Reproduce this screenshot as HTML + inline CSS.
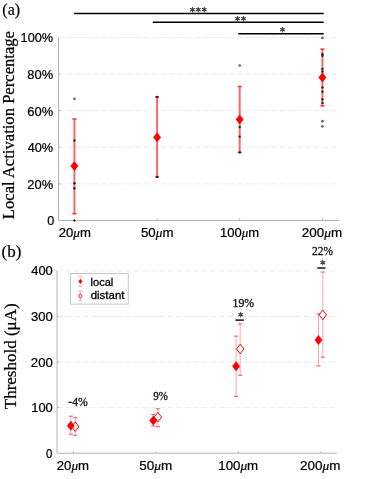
<!DOCTYPE html><html><head><meta charset="utf-8"><style>html,body{margin:0;padding:0;background:#fff;}svg{display:block;}</style></head><body>
<svg width="375" height="479" viewBox="0 0 375 479" style="filter:blur(0.3px)">
<rect width="375" height="479" fill="#fff"/>
<line x1="58.5" y1="183.9" x2="338.9" y2="183.9" stroke="#ededed" stroke-width="1" stroke-dasharray="6 2.5"/>
<line x1="58.5" y1="147.3" x2="338.9" y2="147.3" stroke="#ededed" stroke-width="1" stroke-dasharray="6 2.5"/>
<line x1="58.5" y1="110.7" x2="338.9" y2="110.7" stroke="#ededed" stroke-width="1" stroke-dasharray="6 2.5"/>
<line x1="58.5" y1="74.1" x2="338.9" y2="74.1" stroke="#ededed" stroke-width="1" stroke-dasharray="6 2.5"/>
<line x1="58.5" y1="37.5" x2="338.9" y2="37.5" stroke="#ededed" stroke-width="1" stroke-dasharray="6 2.5"/>
<line x1="58.5" y1="37.5" x2="58.5" y2="220.5" stroke="#b4b4b4" stroke-width="1"/>
<line x1="58.5" y1="220.5" x2="338.9" y2="220.5" stroke="#b4b4b4" stroke-width="1"/>
<line x1="74.4" y1="220.5" x2="74.4" y2="218.5" stroke="#b4b4b4" stroke-width="1"/>
<line x1="157.1" y1="220.5" x2="157.1" y2="218.5" stroke="#b4b4b4" stroke-width="1"/>
<line x1="239.7" y1="220.5" x2="239.7" y2="218.5" stroke="#b4b4b4" stroke-width="1"/>
<line x1="322.4" y1="220.5" x2="322.4" y2="218.5" stroke="#b4b4b4" stroke-width="1"/>
<line x1="58.5" y1="183.9" x2="60.5" y2="183.9" stroke="#b4b4b4" stroke-width="1"/>
<line x1="58.5" y1="147.3" x2="60.5" y2="147.3" stroke="#b4b4b4" stroke-width="1"/>
<line x1="58.5" y1="110.7" x2="60.5" y2="110.7" stroke="#b4b4b4" stroke-width="1"/>
<line x1="58.5" y1="74.1" x2="60.5" y2="74.1" stroke="#b4b4b4" stroke-width="1"/>
<text transform="translate(14,125.1) rotate(-90)" font-family="Liberation Serif, serif" font-size="16.62" text-anchor="middle" fill="#000" stroke="#000" stroke-width="0.25">Local Activation Percentage</text>
<line x1="74.4" y1="119" x2="74.4" y2="213.75" stroke="#ff6262" stroke-width="1.9"/>
<line x1="72.4" y1="119" x2="76.4" y2="119" stroke="#ff3030" stroke-width="1.5"/>
<line x1="72.4" y1="213.75" x2="76.4" y2="213.75" stroke="#ff3030" stroke-width="1.5"/>
<circle cx="74.4" cy="98.8" r="1.35" fill="#6a6a6a"/>
<circle cx="74.4" cy="140.5" r="1.2" fill="#262626"/>
<circle cx="74.4" cy="183.3" r="1.2" fill="#262626"/>
<circle cx="74.4" cy="188.3" r="1.2" fill="#262626"/>
<circle cx="74.4" cy="220.6" r="1.2" fill="#262626"/>
<path d="M74.4 161.2L78.35 166.1L74.4 171L70.45 166.1Z" fill="#ff0000"/>
<line x1="157.1" y1="96.9" x2="157.1" y2="176.9" stroke="#ff6262" stroke-width="1.9"/>
<line x1="155.1" y1="96.9" x2="159.1" y2="96.9" stroke="#ff3030" stroke-width="1.5"/>
<line x1="155.1" y1="176.9" x2="159.1" y2="176.9" stroke="#ff3030" stroke-width="1.5"/>
<circle cx="157.1" cy="96.9" r="1.2" fill="#262626"/>
<circle cx="157.1" cy="176.9" r="1.2" fill="#262626"/>
<path d="M157.1 132.4L161.05 137.3L157.1 142.2L153.15 137.3Z" fill="#ff0000"/>
<line x1="239.7" y1="86.5" x2="239.7" y2="152.4" stroke="#ff6262" stroke-width="1.9"/>
<line x1="237.7" y1="86.5" x2="241.7" y2="86.5" stroke="#ff3030" stroke-width="1.5"/>
<line x1="237.7" y1="152.4" x2="241.7" y2="152.4" stroke="#ff3030" stroke-width="1.5"/>
<circle cx="239.7" cy="65.5" r="1.35" fill="#6a6a6a"/>
<circle cx="239.7" cy="127.1" r="1.2" fill="#262626"/>
<circle cx="239.7" cy="136.6" r="1.2" fill="#262626"/>
<circle cx="239.7" cy="152.4" r="1.2" fill="#262626"/>
<path d="M239.7 114.5L243.65 119.4L239.7 124.3L235.75 119.4Z" fill="#ff0000"/>
<line x1="322.4" y1="49.1" x2="322.4" y2="105.9" stroke="#ff6262" stroke-width="1.9"/>
<line x1="320.4" y1="49.1" x2="324.4" y2="49.1" stroke="#ff3030" stroke-width="1.5"/>
<line x1="320.4" y1="105.9" x2="324.4" y2="105.9" stroke="#ff3030" stroke-width="1.5"/>
<circle cx="322.4" cy="37.9" r="1.35" fill="#6a6a6a"/>
<circle cx="322.4" cy="54.3" r="1.2" fill="#262626"/>
<circle cx="322.4" cy="55.7" r="1.2" fill="#262626"/>
<circle cx="322.4" cy="68.9" r="1.2" fill="#262626"/>
<circle cx="322.4" cy="71.5" r="1.2" fill="#262626"/>
<circle cx="322.4" cy="87.4" r="1.2" fill="#262626"/>
<circle cx="322.4" cy="91.7" r="1.2" fill="#262626"/>
<circle cx="322.4" cy="99.3" r="1.2" fill="#262626"/>
<circle cx="322.4" cy="102.9" r="1.2" fill="#262626"/>
<circle cx="322.4" cy="121.2" r="1.35" fill="#6a6a6a"/>
<circle cx="322.4" cy="126.3" r="1.35" fill="#6a6a6a"/>
<path d="M322.4 72.6L326.35 77.5L322.4 82.4L318.45 77.5Z" fill="#ff0000"/>
<line x1="74.1" y1="13.5" x2="323.7" y2="13.5" stroke="#000" stroke-width="1.4"/>
<line x1="152.8" y1="22.2" x2="323.7" y2="22.2" stroke="#000" stroke-width="1.4"/>
<line x1="238.2" y1="33.8" x2="323.7" y2="33.8" stroke="#000" stroke-width="1.4"/>
<path d="M192.5 12L192.5 7.4M190.51 10.85L194.49 8.55M190.51 8.55L194.49 10.85" stroke="#444" stroke-width="1.1" stroke-linecap="round" fill="none"/>
<circle cx="192.5" cy="9.7" r="1.35" fill="#444"/>
<path d="M198.3 12L198.3 7.4M196.31 10.85L200.29 8.55M196.31 8.55L200.29 10.85" stroke="#444" stroke-width="1.1" stroke-linecap="round" fill="none"/>
<circle cx="198.3" cy="9.7" r="1.35" fill="#444"/>
<path d="M204.2 12L204.2 7.4M202.21 10.85L206.19 8.55M202.21 8.55L206.19 10.85" stroke="#444" stroke-width="1.1" stroke-linecap="round" fill="none"/>
<circle cx="204.2" cy="9.7" r="1.35" fill="#444"/>
<path d="M237.5 20.9L237.5 16.3M235.51 19.75L239.49 17.45M235.51 17.45L239.49 19.75" stroke="#444" stroke-width="1.1" stroke-linecap="round" fill="none"/>
<circle cx="237.5" cy="18.6" r="1.35" fill="#444"/>
<path d="M243.5 20.9L243.5 16.3M241.51 19.75L245.49 17.45M241.51 17.45L245.49 19.75" stroke="#444" stroke-width="1.1" stroke-linecap="round" fill="none"/>
<circle cx="243.5" cy="18.6" r="1.35" fill="#444"/>
<path d="M282.5 32L282.5 27.4M280.51 30.85L284.49 28.55M280.51 28.55L284.49 30.85" stroke="#444" stroke-width="1.1" stroke-linecap="round" fill="none"/>
<circle cx="282.5" cy="29.7" r="1.35" fill="#444"/>
<line x1="57" y1="407.62" x2="336.8" y2="407.62" stroke="#ededed" stroke-width="1" stroke-dasharray="6 2.5"/>
<line x1="57" y1="362.05" x2="336.8" y2="362.05" stroke="#ededed" stroke-width="1" stroke-dasharray="6 2.5"/>
<line x1="57" y1="316.48" x2="336.8" y2="316.48" stroke="#ededed" stroke-width="1" stroke-dasharray="6 2.5"/>
<line x1="57" y1="270.9" x2="336.8" y2="270.9" stroke="#ededed" stroke-width="1" stroke-dasharray="6 2.5"/>
<line x1="57" y1="270.9" x2="57" y2="453.2" stroke="#b4b4b4" stroke-width="1"/>
<line x1="57" y1="453.2" x2="336.8" y2="453.2" stroke="#b4b4b4" stroke-width="1"/>
<line x1="73.3" y1="453.2" x2="73.3" y2="451.2" stroke="#b4b4b4" stroke-width="1"/>
<line x1="155.8" y1="453.2" x2="155.8" y2="451.2" stroke="#b4b4b4" stroke-width="1"/>
<line x1="238.3" y1="453.2" x2="238.3" y2="451.2" stroke="#b4b4b4" stroke-width="1"/>
<line x1="320.8" y1="453.2" x2="320.8" y2="451.2" stroke="#b4b4b4" stroke-width="1"/>
<line x1="57" y1="407.62" x2="59" y2="407.62" stroke="#b4b4b4" stroke-width="1"/>
<line x1="57" y1="362.05" x2="59" y2="362.05" stroke="#b4b4b4" stroke-width="1"/>
<line x1="57" y1="316.48" x2="59" y2="316.48" stroke="#b4b4b4" stroke-width="1"/>
<text transform="translate(16,356.3) rotate(-90)" font-family="Liberation Serif, serif" font-size="17" text-anchor="middle" fill="#000" stroke="#000" stroke-width="0.25">Threshold (μA)</text>
<line x1="70.8" y1="416.2" x2="70.8" y2="434.2" stroke="#ffa8a8" stroke-width="1"/>
<line x1="68.8" y1="416.2" x2="72.8" y2="416.2" stroke="#ff6070" stroke-width="1.2"/>
<line x1="68.8" y1="434.2" x2="72.8" y2="434.2" stroke="#ff6070" stroke-width="1.2"/>
<line x1="75.3" y1="417.5" x2="75.3" y2="435.3" stroke="#ffa8a8" stroke-width="1"/>
<line x1="73.3" y1="417.5" x2="77.3" y2="417.5" stroke="#ff6070" stroke-width="1.2"/>
<line x1="73.3" y1="435.3" x2="77.3" y2="435.3" stroke="#ff6070" stroke-width="1.2"/>
<path d="M75.3 421.9L78.9 426.7L75.3 431.5L71.7 426.7Z" fill="#fff" stroke="#ff0000" stroke-width="1"/>
<path d="M70.8 420.8L74.7 425.8L70.8 430.8L66.9 425.8Z" fill="#ff0000"/>
<line x1="153.3" y1="414.6" x2="153.3" y2="426" stroke="#ffa8a8" stroke-width="1"/>
<line x1="151.3" y1="414.6" x2="155.3" y2="414.6" stroke="#ff6070" stroke-width="1.2"/>
<line x1="151.3" y1="426" x2="155.3" y2="426" stroke="#ff6070" stroke-width="1.2"/>
<line x1="157.9" y1="408.8" x2="157.9" y2="426.6" stroke="#ffa8a8" stroke-width="1"/>
<line x1="155.9" y1="408.8" x2="159.9" y2="408.8" stroke="#ff6070" stroke-width="1.2"/>
<line x1="155.9" y1="426.6" x2="159.9" y2="426.6" stroke="#ff6070" stroke-width="1.2"/>
<path d="M157.9 412.3L161.5 417.1L157.9 421.9L154.3 417.1Z" fill="#fff" stroke="#ff0000" stroke-width="1"/>
<path d="M153.3 415.6L157.2 420.6L153.3 425.6L149.4 420.6Z" fill="#ff0000"/>
<line x1="236.1" y1="336.1" x2="236.1" y2="396.4" stroke="#ffa8a8" stroke-width="1"/>
<line x1="234.1" y1="336.1" x2="238.1" y2="336.1" stroke="#ff6070" stroke-width="1.2"/>
<line x1="234.1" y1="396.4" x2="238.1" y2="396.4" stroke="#ff6070" stroke-width="1.2"/>
<line x1="240.2" y1="323.9" x2="240.2" y2="375.3" stroke="#ffa8a8" stroke-width="1"/>
<line x1="238.2" y1="323.9" x2="242.2" y2="323.9" stroke="#ff6070" stroke-width="1.2"/>
<line x1="238.2" y1="375.3" x2="242.2" y2="375.3" stroke="#ff6070" stroke-width="1.2"/>
<path d="M240.2 344.2L243.8 349L240.2 353.8L236.6 349Z" fill="#fff" stroke="#ff0000" stroke-width="1"/>
<path d="M236.1 361.2L240 366.2L236.1 371.2L232.2 366.2Z" fill="#ff0000"/>
<line x1="318.5" y1="313.8" x2="318.5" y2="365.9" stroke="#ffa8a8" stroke-width="1"/>
<line x1="316.5" y1="313.8" x2="320.5" y2="313.8" stroke="#ff6070" stroke-width="1.2"/>
<line x1="316.5" y1="365.9" x2="320.5" y2="365.9" stroke="#ff6070" stroke-width="1.2"/>
<line x1="322.8" y1="272.1" x2="322.8" y2="357.2" stroke="#ffa8a8" stroke-width="1"/>
<line x1="320.8" y1="272.1" x2="324.8" y2="272.1" stroke="#ff6070" stroke-width="1.2"/>
<line x1="320.8" y1="357.2" x2="324.8" y2="357.2" stroke="#ff6070" stroke-width="1.2"/>
<path d="M322.8 310.1L326.4 314.9L322.8 319.7L319.2 314.9Z" fill="#fff" stroke="#ff0000" stroke-width="1"/>
<path d="M318.5 335L322.4 340L318.5 345L314.6 340Z" fill="#ff0000"/>
<line x1="235.5" y1="320.1" x2="243.9" y2="320.1" stroke="#000" stroke-width="1.4"/>
<path d="M240.7 317L240.7 312.4M238.71 315.85L242.69 313.55M238.71 313.55L242.69 315.85" stroke="#444" stroke-width="1.1" stroke-linecap="round" fill="none"/>
<circle cx="240.7" cy="314.7" r="1.35" fill="#444"/>
<line x1="317.3" y1="268" x2="325.5" y2="268" stroke="#000" stroke-width="1.4"/>
<path d="M322.8 264.9L322.8 260.3M320.81 263.75L324.79 261.45M320.81 261.45L324.79 263.75" stroke="#444" stroke-width="1.1" stroke-linecap="round" fill="none"/>
<circle cx="322.8" cy="262.6" r="1.35" fill="#444"/>
<rect x="70.5" y="273.5" width="57.8" height="30.6" fill="#fff" stroke="#c8c8c8" stroke-width="1"/>
<line x1="80.4" y1="276.2" x2="80.4" y2="286.2" stroke="#ffd0d0" stroke-width="0.7"/>
<line x1="78.4" y1="276.2" x2="82.4" y2="276.2" stroke="#ffa8a8" stroke-width="1"/>
<line x1="78.4" y1="286.2" x2="82.4" y2="286.2" stroke="#ffa8a8" stroke-width="1"/>
<path d="M80.4 278.8L82.4 281.4L80.4 284L78.4 281.4Z" fill="#ff0000"/>
<line x1="80.4" y1="291" x2="80.4" y2="300.6" stroke="#ffd0d0" stroke-width="0.7"/>
<line x1="78.4" y1="291" x2="82.4" y2="291" stroke="#ffa8a8" stroke-width="1"/>
<line x1="78.4" y1="300.6" x2="82.4" y2="300.6" stroke="#ffa8a8" stroke-width="1"/>
<path d="M80.4 293.6L82.1 296L80.4 298.4L78.7 296Z" fill="#fff" stroke="#ff0000" stroke-width="0.9"/>
<text x="20.62" y="42.16" font-family="Liberation Sans, sans-serif" font-size="12.6" fill="#000" stroke="#000" stroke-width="0.22" textLength="32.53" lengthAdjust="spacingAndGlyphs" >100%</text>
<text x="27.29" y="78.91" font-family="Liberation Sans, sans-serif" font-size="12.6" fill="#000" stroke="#000" stroke-width="0.22" textLength="25.87" lengthAdjust="spacingAndGlyphs" >80%</text>
<text x="27.29" y="115.66" font-family="Liberation Sans, sans-serif" font-size="12.6" fill="#000" stroke="#000" stroke-width="0.22" textLength="25.87" lengthAdjust="spacingAndGlyphs" >60%</text>
<text x="27.67" y="152.26" font-family="Liberation Sans, sans-serif" font-size="12.6" fill="#000" stroke="#000" stroke-width="0.22" textLength="25.47" lengthAdjust="spacingAndGlyphs" >40%</text>
<text x="27.29" y="189.11" font-family="Liberation Sans, sans-serif" font-size="12.6" fill="#000" stroke="#000" stroke-width="0.22" textLength="25.87" lengthAdjust="spacingAndGlyphs" >20%</text>
<text x="47.32" y="225.21" font-family="Liberation Sans, sans-serif" font-size="12.6" fill="#000" stroke="#000" stroke-width="0.22" textLength="7.07" lengthAdjust="spacingAndGlyphs" >0</text>
<text x="58.68" y="237.38" font-family="Liberation Sans, sans-serif" font-size="12.6" fill="#000" stroke="#000" stroke-width="0.22" textLength="32.17" lengthAdjust="spacingAndGlyphs" >20<tspan font-family="Liberation Serif, serif" font-style="italic">μ</tspan>m</text>
<text x="141.01" y="237.38" font-family="Liberation Sans, sans-serif" font-size="12.6" fill="#000" stroke="#000" stroke-width="0.22" textLength="32.45" lengthAdjust="spacingAndGlyphs" >50<tspan font-family="Liberation Serif, serif" font-style="italic">μ</tspan>m</text>
<text x="220" y="237.38" font-family="Liberation Sans, sans-serif" font-size="12.6" fill="#000" stroke="#000" stroke-width="0.22" textLength="39.04" lengthAdjust="spacingAndGlyphs" >100<tspan font-family="Liberation Serif, serif" font-style="italic">μ</tspan>m</text>
<text x="301.87" y="237.38" font-family="Liberation Sans, sans-serif" font-size="12.6" fill="#000" stroke="#000" stroke-width="0.22" textLength="40.3" lengthAdjust="spacingAndGlyphs" >200<tspan font-family="Liberation Serif, serif" font-style="italic">μ</tspan>m</text>
<text x="31.27" y="275.21" font-family="Liberation Sans, sans-serif" font-size="12.6" fill="#000" stroke="#000" stroke-width="0.22" textLength="21.53" lengthAdjust="spacingAndGlyphs" >400</text>
<text x="31.01" y="321.26" font-family="Liberation Sans, sans-serif" font-size="12.6" fill="#000" stroke="#000" stroke-width="0.22" textLength="21.79" lengthAdjust="spacingAndGlyphs" >300</text>
<text x="30.88" y="366.96" font-family="Liberation Sans, sans-serif" font-size="12.6" fill="#000" stroke="#000" stroke-width="0.22" textLength="21.93" lengthAdjust="spacingAndGlyphs" >200</text>
<text x="31.2" y="411.86" font-family="Liberation Sans, sans-serif" font-size="12.6" fill="#000" stroke="#000" stroke-width="0.22" textLength="21.6" lengthAdjust="spacingAndGlyphs" >100</text>
<text x="46.06" y="458.21" font-family="Liberation Sans, sans-serif" font-size="12.6" fill="#000" stroke="#000" stroke-width="0.22" textLength="6.4" lengthAdjust="spacingAndGlyphs" >0</text>
<text x="56.78" y="470.38" font-family="Liberation Sans, sans-serif" font-size="12.6" fill="#000" stroke="#000" stroke-width="0.22" textLength="32.28" lengthAdjust="spacingAndGlyphs" >20<tspan font-family="Liberation Serif, serif" font-style="italic">μ</tspan>m</text>
<text x="139.2" y="470.38" font-family="Liberation Sans, sans-serif" font-size="12.6" fill="#000" stroke="#000" stroke-width="0.22" textLength="32.97" lengthAdjust="spacingAndGlyphs" >50<tspan font-family="Liberation Serif, serif" font-style="italic">μ</tspan>m</text>
<text x="218.28" y="470.38" font-family="Liberation Sans, sans-serif" font-size="12.6" fill="#000" stroke="#000" stroke-width="0.22" textLength="39.88" lengthAdjust="spacingAndGlyphs" >100<tspan font-family="Liberation Serif, serif" font-style="italic">μ</tspan>m</text>
<text x="300.07" y="470.38" font-family="Liberation Sans, sans-serif" font-size="12.6" fill="#000" stroke="#000" stroke-width="0.22" textLength="40.3" lengthAdjust="spacingAndGlyphs" >200<tspan font-family="Liberation Serif, serif" font-style="italic">μ</tspan>m</text>
<text x="90.49" y="286.11" font-family="Liberation Sans, sans-serif" font-size="11.4" fill="#000" stroke="#000" stroke-width="0.3" textLength="22.86" lengthAdjust="spacingAndGlyphs" >local</text>
<text x="90.72" y="299.36" font-family="Liberation Sans, sans-serif" font-size="11.4" fill="#000" stroke="#000" stroke-width="0.3" textLength="33.71" lengthAdjust="spacingAndGlyphs" >distant</text>
<text x="68.25" y="406.16" font-family="Liberation Serif, serif" font-size="11.7" fill="#111" stroke="#111" stroke-width="0.3" textLength="19.59" lengthAdjust="spacingAndGlyphs" >-4%</text>
<text x="153.17" y="400.46" font-family="Liberation Serif, serif" font-size="11.7" fill="#111" stroke="#111" stroke-width="0.3" textLength="14.64" lengthAdjust="spacingAndGlyphs" >9%</text>
<text x="232.52" y="306.61" font-family="Liberation Serif, serif" font-size="11.7" fill="#111" stroke="#111" stroke-width="0.3" textLength="21.6" lengthAdjust="spacingAndGlyphs" >19%</text>
<text x="312.03" y="254.91" font-family="Liberation Serif, serif" font-size="11.7" fill="#111" stroke="#111" stroke-width="0.3" textLength="20.97" lengthAdjust="spacingAndGlyphs" >22%</text>
<text x="2.27" y="14.58" font-family="Liberation Serif, serif" font-size="16" fill="#000" stroke="#000" stroke-width="0.2" textLength="17.87" lengthAdjust="spacingAndGlyphs" >(a)</text>
<text x="1.54" y="257.38" font-family="Liberation Serif, serif" font-size="16" fill="#000" stroke="#000" stroke-width="0.2" textLength="19.83" lengthAdjust="spacingAndGlyphs" >(b)</text>
</svg></body></html>
